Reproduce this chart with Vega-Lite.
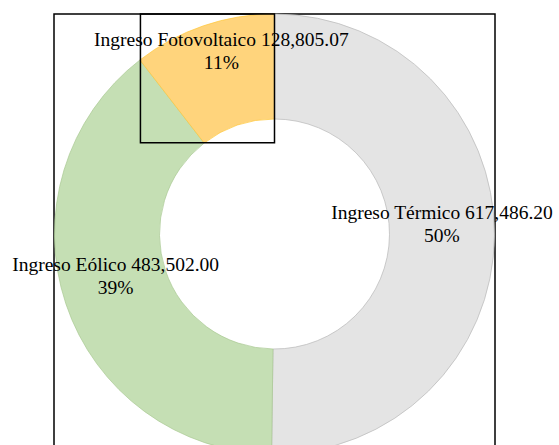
{
  "$schema": "https://vega.github.io/schema/vega-lite/v6.json",
  "width": 441,
  "height": 440,
  "autosize": {"type": "none"},
  "padding": {"left": 54, "top": 14, "right": 64, "bottom": -9},
  "background": "white",
  "config": {"view": {"stroke": "black", "strokeWidth": 1.5}},
  "datasets": {
    "ingresos": [
      {"concepto": "Ingreso Térmico", "valor": 617486.20, "texto": "617,486.20", "pct": "50%"},
      {"concepto": "Ingreso Eólico", "valor": 483502.00, "texto": "483,502.00", "pct": "39%"},
      {"concepto": "Ingreso Fotovoltaico", "valor": 128805.07, "texto": "128,805.07", "pct": "11%"}
    ],
    "marco": [{"x": -0.608, "x2": 0, "y": 1, "y2": 0.415}]
  },
  "data": {"name": "ingresos"},
  "transform": [
    {"calculate": "datum.concepto + ' ' + datum.texto + '\\n' + datum.pct", "as": "etiqueta"}
  ],
  "layer": [
    {
      "mark": {"type": "arc", "innerRadius": 115, "outerRadius": 220, "strokeWidth": 0.7},
      "encoding": {
        "theta": {"field": "valor", "type": "quantitative", "stack": true},
        "order": {"field": "valor", "sort": "descending"},
        "color": {
          "field": "concepto", "type": "nominal", "legend": null,
          "scale": {"domain": ["Ingreso Térmico", "Ingreso Eólico", "Ingreso Fotovoltaico"], "range": ["#E4E4E4", "#C5DFB4", "#FFD47C"]}
        },
        "stroke": {
          "field": "concepto", "type": "nominal", "legend": null,
          "scale": {"domain": ["Ingreso Térmico", "Ingreso Eólico", "Ingreso Fotovoltaico"], "range": ["#b8b8b8", "#a9c992", "#ffc73a"]}
        }
      }
    },
    {
      "mark": {"type": "text", "radius": 167.5, "dy": -16, "lineBreak": "\n", "lineHeight": 23, "font": "Liberation Serif", "fontSize": 19.5, "baseline": "alphabetic", "align": "center", "color": "black"},
      "encoding": {
        "theta": {"field": "valor", "type": "quantitative", "stack": true},
        "order": {"field": "valor", "sort": "descending"},
        "text": {"condition": {"test": "datum.concepto !== 'Ingreso Fotovoltaico'", "field": "etiqueta"}, "value": ""}
      }
    },
    {
      "mark": {"type": "text", "radius": 167.5, "dy": -29, "dx": 1, "lineBreak": "\n", "lineHeight": 23, "font": "Liberation Serif", "fontSize": 19.5, "baseline": "alphabetic", "align": "center", "color": "black"},
      "encoding": {
        "theta": {"field": "valor", "type": "quantitative", "stack": true},
        "order": {"field": "valor", "sort": "descending"},
        "text": {"condition": {"test": "datum.concepto === 'Ingreso Fotovoltaico'", "field": "etiqueta"}, "value": ""}
      }
    },
    {
      "data": {"name": "marco"},
      "mark": {"type": "rect", "fill": null, "fillOpacity": 0, "stroke": "black", "strokeWidth": 1.5},
      "encoding": {
        "x": {"field": "x", "type": "quantitative", "scale": {"domain": [-1, 1]}, "axis": null},
        "x2": {"field": "x2"},
        "y": {"field": "y", "type": "quantitative", "scale": {"domain": [-1, 1]}, "axis": null},
        "y2": {"field": "y2"}
      }
    }
  ]
}
